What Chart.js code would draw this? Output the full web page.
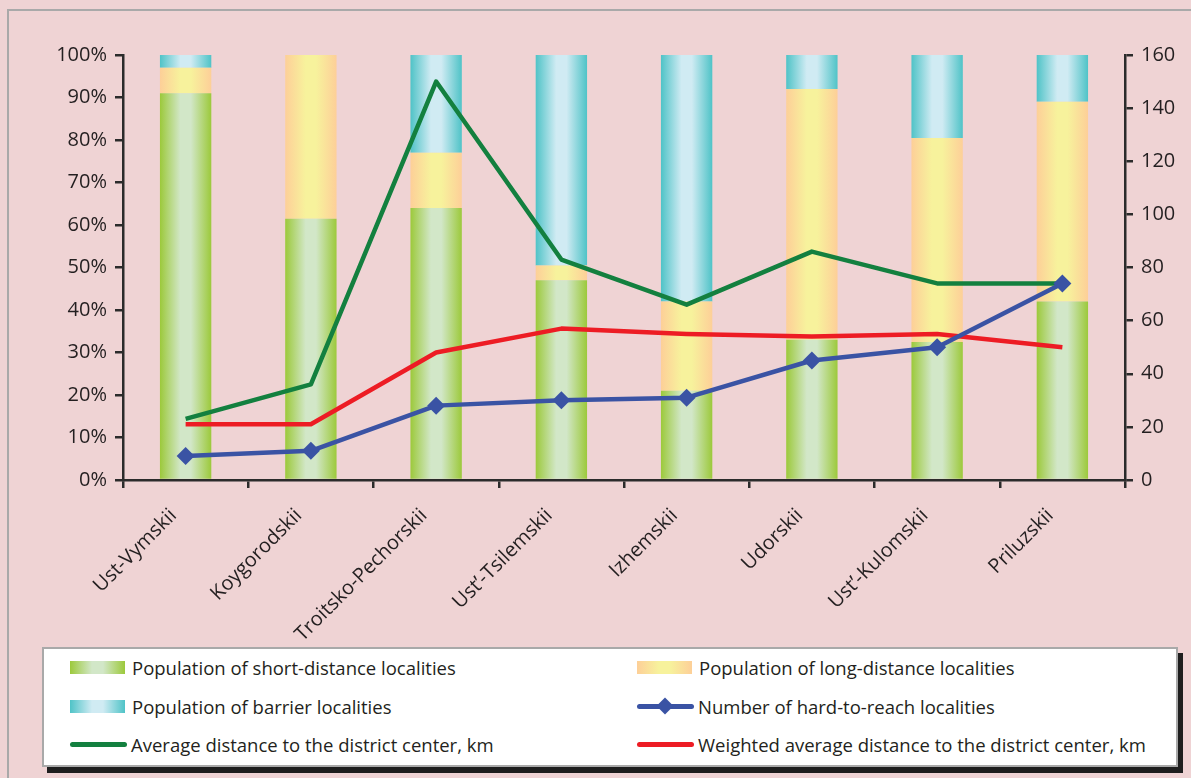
<!DOCTYPE html>
<html>
<head>
<meta charset="utf-8">
<title>Hard-to-reach localities by district</title>
<script src="https://cdn.jsdelivr.net/npm/chart.js@4.4.1/dist/chart.umd.min.js"></script>
<style>
  body { margin: 0; width: 1191px; height: 778px; background: #efd3d4; overflow: hidden; position: relative; font-family: 'Open Sans', sans-serif; }
  #frame { position: absolute; left: 7px; top: 9px; width: 1300px; height: 900px; border-left: 2px solid #a9a9a9; border-top: 2px solid #a9a9a9; }
  #chart-wrap { position: absolute; left: 0; top: 0; width: 1191px; height: 640px; }
  #legend { position: absolute; left: 42px; top: 647px; width: 1136px; height: 120px; box-sizing: border-box; background: #fff; border: 2px solid #a9a9a9; box-shadow: 5px 6px 0 #1e1e1e; }
  .lg-item { position: absolute; height: 24px; display: flex; align-items: center; font-size: 18.5px; color: #231f20; white-space: nowrap; }
  .lg-box { width: 55px; height: 13px; margin-right: 7px; }
  .lg-line { position: relative; width: 57px; height: 5px; border-radius: 3px; margin-right: 4px; }
  .lg-diamond { position: absolute; left: 22px; top: -4px; width: 12px; height: 12px; transform: rotate(45deg); }
</style>
</head>
<body>
<div id="frame"></div>
<div id="chart-wrap"><canvas id="chart" width="1191" height="640"></canvas></div>
<div id="legend"></div>
<script>
const categories = ['Ust-Vymskii', 'Koygorodskii', 'Troitsko-Pechorskii', 'Ust\u2019-Tsilemskii', 'Izhemskii', 'Udorskii', 'Ust\u2019-Kulomskii', 'Priluzskii'];

// population shares, %
const shortPop = [91, 61.5, 64, 47, 21, 33, 32.5, 42];
const longPop = [6, 38.5, 13, 3.5, 21, 59, 48, 47];
const barrierPop = [3, 0, 23, 49.5, 58, 8, 19.5, 11];

// right axis
const hardToReach = [9, 11, 28, 30, 31, 45, 50, 74];
const avgDist = [23, 36, 150, 83, 66, 86, 74, 74];
const weightedDist = [21, 21, 48, 57, 55, 54, 55, 50];

const percentTicks = [0, 10, 20, 30, 40, 50, 60, 70, 80, 90, 100];
const kmTicks = [0, 20, 40, 60, 80, 100, 120, 140, 160];

const barShare = 0.41;
const axisColor = '#2b2b2b';
const textColor = '#231f20';

const colors = {
  short: ['#9cc93b', '#d2e7c8'],
  long: ['#fdcf98', '#f7f29c'],
  barrier: ['#4fc3c7', '#d0ebf3'],
  hard: '#3a53a4',
  avg: '#13803f',
  weighted: '#ed1c24'
};

function barGradient(pair) {
  return function (context) {
    const chart = context.chart;
    const xScale = chart.scales.x;
    if (!chart.chartArea || !xScale || context.dataIndex === undefined) return pair[0];
    const center = xScale.getPixelForValue(context.dataIndex);
    const half = xScale.width / categories.length * barShare / 2;
    const g = chart.ctx.createLinearGradient(center - half, 0, center + half, 0);
    g.addColorStop(0, pair[0]);
    g.addColorStop(0.4, pair[1]);
    g.addColorStop(0.6, pair[1]);
    g.addColorStop(1, pair[0]);
    return g;
  };
}

function barSet(label, data, pair) {
  return {
    type: 'bar',
    label: label,
    data: data,
    backgroundColor: barGradient(pair),
    borderWidth: 0,
    barPercentage: barShare,
    categoryPercentage: 1,
    yAxisID: 'y',
    stack: 'pop',
    order: 10,
    swatch: pair
  };
}

function lineSet(label, data, color, order, marker) {
  return {
    type: 'line',
    label: label,
    data: data,
    borderColor: color,
    backgroundColor: color,
    borderWidth: 4.5,
    borderJoinStyle: 'round',
    tension: 0,
    pointStyle: 'rectRot',
    pointRadius: marker ? 9 : 0,
    pointBorderWidth: 0,
    yAxisID: 'y1',
    order: order,
    marker: marker
  };
}

const tickFont = { family: "'Open Sans', sans-serif", size: 20 };

const chartCanvas = document.querySelector('#chart');
const popChart = new Chart(chartCanvas, {
  data: {
    labels: categories,
    datasets: [
      barSet('Population of short-distance localities', shortPop, colors.short),
      barSet('Population of long-distance localities', longPop, colors.long),
      barSet('Population of barrier localities', barrierPop, colors.barrier),
      lineSet('Number of hard-to-reach localities', hardToReach, colors.hard, 0, true),
      lineSet('Average distance to the district center, km', avgDist, colors.avg, 2, false),
      lineSet('Weighted average distance to the district center, km', weightedDist, colors.weighted, 1, false)
    ]
  },
  options: {
    responsive: false,
    animation: false,
    layout: { padding: { top: 55 } },
    plugins: {
      legend: { display: false },
      tooltip: { enabled: false }
    },
    scales: {
      x: {
        stacked: true,
        offset: true,
        grid: { offset: true, drawOnChartArea: false, tickLength: 8, color: axisColor, lineWidth: 2.5 },
        border: { color: axisColor, width: 2.5 },
        ticks: { minRotation: 45, maxRotation: 45, autoSkip: false, padding: 16, labelOffset: -12, font: tickFont, color: textColor },
        afterFit: function (scale) { scale.height = 160; }
      },
      y: {
        stacked: true,
        position: 'left',
        min: 0,
        max: 100,
        grid: { drawOnChartArea: false, tickLength: 8, color: axisColor, lineWidth: 2.5 },
        border: { color: axisColor, width: 2.5 },
        ticks: { padding: 8, font: tickFont, color: textColor, callback: v => v + '%' },
        afterBuildTicks: function (scale) { scale.ticks = percentTicks.map(v => ({ value: v })); },
        afterFit: function (scale) { scale.width = 123; }
      },
      y1: {
        position: 'right',
        min: 0,
        max: 160,
        grid: { drawOnChartArea: false, tickLength: 8, color: axisColor, lineWidth: 2.5 },
        border: { color: axisColor, width: 2.5 },
        ticks: { padding: 8, font: tickFont, color: textColor },
        afterBuildTicks: function (scale) { scale.ticks = kmTicks.map(v => ({ value: v })); },
        afterFit: function (scale) { scale.width = 66; }
      }
    }
  }
});

// legend: two columns, three rows
const legendBox = document.querySelector('#legend');
const colLeft = [26, 593];
const rowTop = [6.5, 45, 83];
popChart.data.datasets.forEach((ds, i) => {
  const item = document.createElement('div');
  item.className = 'lg-item';
  item.style.left = colLeft[i % 2] + 'px';
  item.style.top = rowTop[Math.floor(i / 2)] + 'px';
  let mark;
  if (ds.type === 'bar') {
    mark = document.createElement('span');
    mark.className = 'lg-box';
    mark.style.background = `linear-gradient(to right, ${ds.swatch[0]} 0%, ${ds.swatch[1]} 40%, ${ds.swatch[1]} 60%, ${ds.swatch[0]} 100%)`;
  } else {
    mark = document.createElement('span');
    mark.className = 'lg-line';
    mark.style.background = ds.borderColor;
    if (ds.marker) {
      const d = document.createElement('span');
      d.className = 'lg-diamond';
      d.style.background = ds.borderColor;
      mark.appendChild(d);
    }
  }
  const txt = document.createElement('span');
  txt.textContent = ds.label;
  item.appendChild(mark);
  item.appendChild(txt);
  legendBox.appendChild(item);
});
</script>
</body>
</html>
